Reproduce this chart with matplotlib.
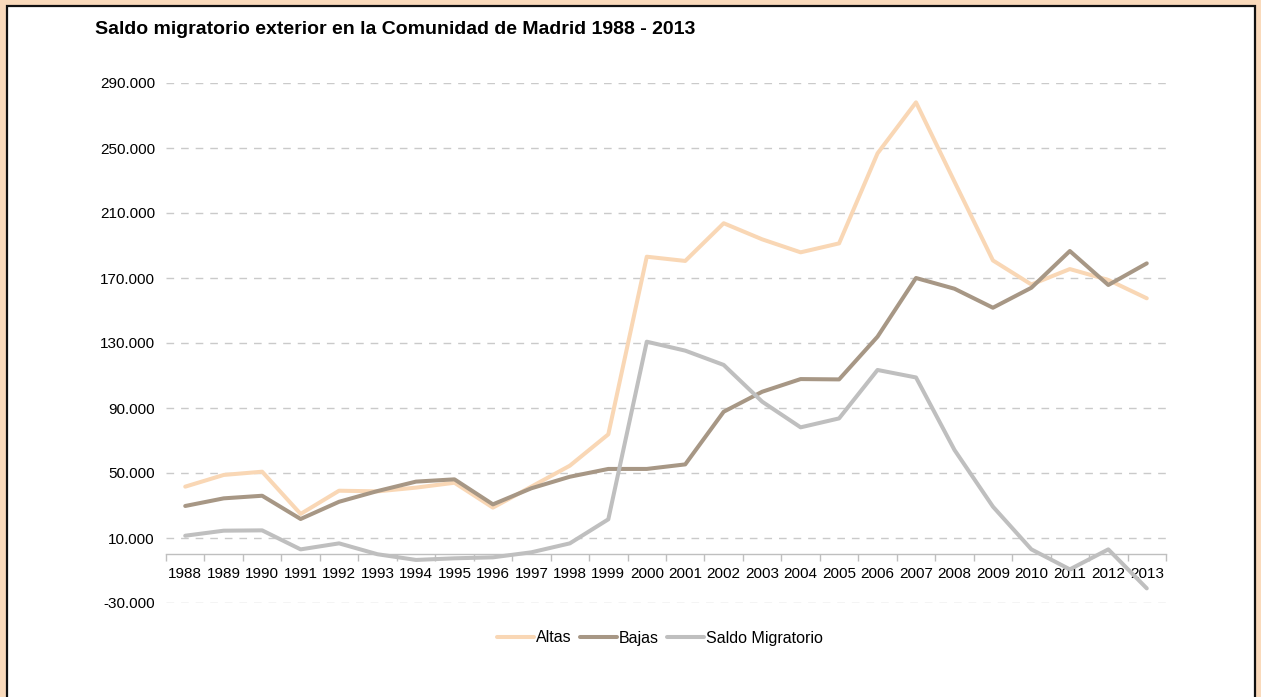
import matplotlib
matplotlib.use("Agg")
import matplotlib.pyplot as plt
from matplotlib.patches import Rectangle
from matplotlib.ticker import FuncFormatter, FixedLocator

plt.rcParams["font.family"] = ["Liberation Sans", "DejaVu Sans"]

# data
years = [str(y) for y in range(1988, 2014)]
altas = [41600, 48800, 50800, 24800, 39100, 38700, 41000, 44000, 28700, 41600,
         54500, 73800, 183100, 180500, 203700, 193800, 185800, 191300, 246700,
         278100, 229300, 180800, 166000, 175500, 168800, 157500]
bajas = [29700, 34400, 36000, 21700, 32300, 38900, 44700, 46100, 30700, 40600,
         47700, 52500, 52500, 55300, 87700, 100000, 107800, 107600, 133900,
         170000, 163400, 151700, 164000, 186600, 165700, 179000]
saldo = [11400, 14500, 14700, 3000, 6700, 0, -3500, -2500, -1900, 1200,
         6700, 21500, 130800, 125300, 116500, 93900, 78100, 83600, 113400,
         108800, 64200, 29300, 3000, -9300, 3000, -21000]
y_ticks = list(range(-30000, 290001, 40000))

W, H = 1261, 697
fig = plt.figure(figsize=(W / 100, H / 100), dpi=100)
fig.patch.set_facecolor("#FADABB")

# white panel with dark frame
panel = Rectangle((6.5 / W, -0.05), (1254.5 - 6.5) / W, 1.05 - 6 / H,
                  transform=fig.transFigure, facecolor="white",
                  edgecolor="#111111", linewidth=1.6, zorder=-10)
fig.patches.append(panel)

ax = fig.add_axes([166 / W, 1 - 603 / H, 1000 / W, 520 / H])
ax.set_facecolor("none")

x = range(len(years))
style = dict(linewidth=2.9, solid_capstyle="round", solid_joinstyle="round")
ax.plot(x, altas, color="#F9D7B5", label="Altas", **style)
ax.plot(x, bajas, color="#A79785", label="Bajas", **style)
ax.plot(x, saldo, color="#BFBFBF", label="Saldo Migratorio", **style)

ax.set_xlim(-0.5, len(years) - 0.5)
ax.set_ylim(-30000, 290000)
ax.set_yticks(y_ticks)
ax.yaxis.set_major_formatter(FuncFormatter(lambda v, p: f"{v:,.0f}".replace(",", ".")))
ax.set_xticks(list(x))
ax.set_xticklabels(years)
ax.xaxis.set_minor_locator(FixedLocator([i - 0.5 for i in range(len(years) + 1)]))

ax.yaxis.grid(True, color="#CACACA", linewidth=1, linestyle=(0, (5.5, 5)))
ax.set_axisbelow(True)

for s in ["top", "right", "left"]:
    ax.spines[s].set_visible(False)
ax.spines["bottom"].set_position(("data", 0))
ax.spines["bottom"].set_color("#BFBFBF")
ax.spines["bottom"].set_linewidth(1)

ax.tick_params(axis="x", which="major", length=0, pad=9, labelsize=11)
ax.tick_params(axis="x", which="minor", length=5, color="#BFBFBF", width=1)
ax.tick_params(axis="y", length=0, pad=8, labelsize=11)

fig.text(95 / W, 1 - 30 / H, "Saldo migratorio exterior en la Comunidad de Madrid 1988 - 2013",
         fontsize=14, fontweight="bold", ha="left", va="center")

fig.legend(loc="center", bbox_to_anchor=(660 / W, 1 - 638 / H), ncol=3, frameon=False,
           fontsize=11.5, handlelength=2.3, handletextpad=0.15, columnspacing=0.5)

fig.savefig("out.png", dpi=100, facecolor=fig.get_facecolor())
